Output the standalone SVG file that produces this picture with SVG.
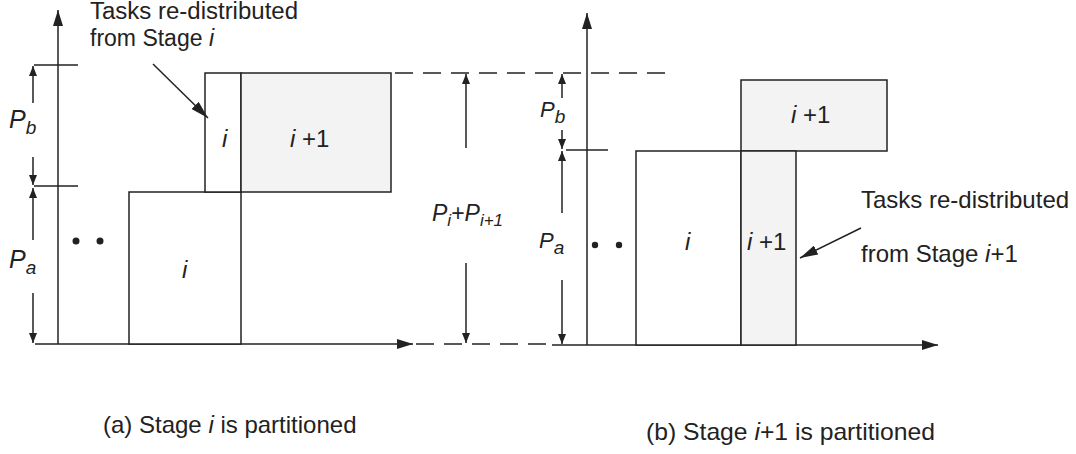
<svg xmlns="http://www.w3.org/2000/svg" width="1076" height="454" viewBox="0 0 1076 454">
<defs>
<marker id="ah" viewBox="0 0 16 10" refX="16" refY="5" markerWidth="16" markerHeight="10" markerUnits="userSpaceOnUse" orient="auto"><path d="M0,0 L16,5 L0,10 z" fill="#222"/></marker>
<marker id="an" viewBox="0 0 18 10" refX="18" refY="5" markerWidth="18" markerHeight="10" markerUnits="userSpaceOnUse" orient="auto"><path d="M0,0 L18,5 L0,10 z" fill="#222"/></marker>
<marker id="ds" viewBox="0 0 10 8" refX="10" refY="4" markerWidth="10" markerHeight="8" markerUnits="userSpaceOnUse" orient="auto"><path d="M0,0 L10,4 L0,8 z" fill="#222"/></marker>
<style>
.ln{stroke:#222;stroke-width:1.5;fill:none}
.dash{stroke:#222;stroke-width:1.5;fill:none;stroke-dasharray:18 10}
.box{stroke:#222;stroke-width:1.5;fill:#fff}
.sh{stroke:#222;stroke-width:1.5;fill:#f3f3f3}
.t{font-family:"Liberation Sans",Arial,sans-serif;font-size:24px;fill:#222}
.it{font-style:italic}
.lbl{font-family:"Liberation Sans",Arial,sans-serif;font-size:25px;fill:#222;font-style:italic}
.sub{font-size:19px}
</style>
</defs>

<g id="panel-a-axes">
<line class="ln" x1="58" y1="344" x2="58" y2="10" marker-end="url(#ah)"/>
<line class="ln" x1="35" y1="344" x2="413" y2="344" marker-end="url(#ah)"/>
<line class="ln" x1="34" y1="65" x2="78" y2="65"/>
<line class="ln" x1="34" y1="186" x2="78" y2="186"/>
</g>

<g id="panel-a-boxes">
<rect id="a-lower-i" class="box" x="129" y="192" width="112" height="152"/>
<rect id="a-upper-i" class="box" x="205" y="73" width="36" height="119"/>
<rect id="a-upper-i1" class="sh" x="241" y="73" width="150" height="119"/>
<text class="t it" x="182" y="278">i</text>
<text class="t it" x="222" y="147">i</text>
<text class="t" x="290" y="147"><tspan class="it">i</tspan> +1</text>
<circle cx="76" cy="241" r="3.5" fill="#222"/>
<circle cx="100" cy="241" r="3.5" fill="#222"/>
</g>

<g id="panel-b-axes">
<line class="ln" x1="587" y1="345" x2="587" y2="13" marker-end="url(#ah)"/>
<line class="ln" x1="552" y1="345" x2="938" y2="345" marker-end="url(#ah)"/>
<line class="ln" x1="566" y1="150" x2="608" y2="150"/>
</g>

<g id="panel-b-boxes">
<rect id="b-upper-i1" class="sh" x="741" y="80" width="146" height="71"/>
<rect id="b-lower" class="box" x="636" y="151" width="105" height="194"/>
<rect id="b-lower-i1" class="sh" x="741" y="151" width="55" height="194"/>
<text class="t it" x="685" y="250">i</text>
<text class="t" x="747" y="250"><tspan class="it">i</tspan> +1</text>
<text class="t" x="791" y="123"><tspan class="it">i</tspan> +1</text>
<circle cx="595" cy="245" r="3.2" fill="#222"/>
<circle cx="619" cy="245" r="3.2" fill="#222"/>
</g>

<g id="connectors">
<line class="dash" x1="395" y1="73" x2="668" y2="73"/>
<line class="dash" x1="416" y1="344" x2="552" y2="344"/>
<line class="ln" x1="33" y1="103" x2="33" y2="66" marker-end="url(#ds)"/>
<line class="ln" x1="33" y1="157" x2="33" y2="185" marker-end="url(#ds)"/>
<line class="ln" x1="33" y1="240" x2="33" y2="188" marker-end="url(#ds)"/>
<line class="ln" x1="33" y1="293" x2="33" y2="343" marker-end="url(#ds)"/>
<line class="ln" x1="466" y1="148" x2="466" y2="74" marker-end="url(#ds)"/>
<line class="ln" x1="466" y1="263" x2="466" y2="343" marker-end="url(#ds)"/>
<line class="ln" x1="562" y1="98" x2="562" y2="74" marker-end="url(#ds)"/>
<line class="ln" x1="562" y1="130" x2="562" y2="149" marker-end="url(#ds)"/>
<line class="ln" x1="562" y1="213" x2="562" y2="151" marker-end="url(#ds)"/>
<line class="ln" x1="562" y1="280" x2="562" y2="344" marker-end="url(#ds)"/>
<line class="ln" x1="153" y1="64" x2="208" y2="118" marker-end="url(#an)"/>
<line class="ln" x1="861" y1="228" x2="800" y2="258" marker-end="url(#an)"/>
</g>

<g id="labels">
<text class="lbl" x="9" y="128">P<tspan class="sub" dy="6">b</tspan></text>
<text class="lbl" x="9" y="268">P<tspan class="sub" dy="6">a</tspan></text>
<text class="lbl" x="540" y="117" style="font-size:22px">P<tspan class="sub" dy="6">b</tspan></text>
<text class="lbl" x="539" y="248" style="font-size:22px">P<tspan class="sub" dy="6">a</tspan></text>
<text class="lbl" x="432" y="221" style="font-size:23px">P<tspan style="font-size:17px" dy="5">i</tspan><tspan dy="-5" font-style="normal">+</tspan>P<tspan style="font-size:17px" dy="5">i+1</tspan></text>
<text class="t" x="90" y="19" style="font-size:23px" textLength="208" lengthAdjust="spacingAndGlyphs">Tasks re-distributed</text>
<text class="t" x="90" y="46" style="font-size:23px">from Stage <tspan class="it">i</tspan></text>
<text class="t" x="861" y="208">Tasks re-distributed</text>
<text class="t" x="861" y="262">from Stage <tspan class="it">i</tspan>+1</text>
<text class="t" x="103" y="433">(a) Stage <tspan class="it">i</tspan> is partitioned</text>
<text class="t" x="646" y="440" textLength="289" lengthAdjust="spacingAndGlyphs">(b) Stage <tspan class="it">i</tspan>+1 is partitioned</text>
</g>
</svg>
